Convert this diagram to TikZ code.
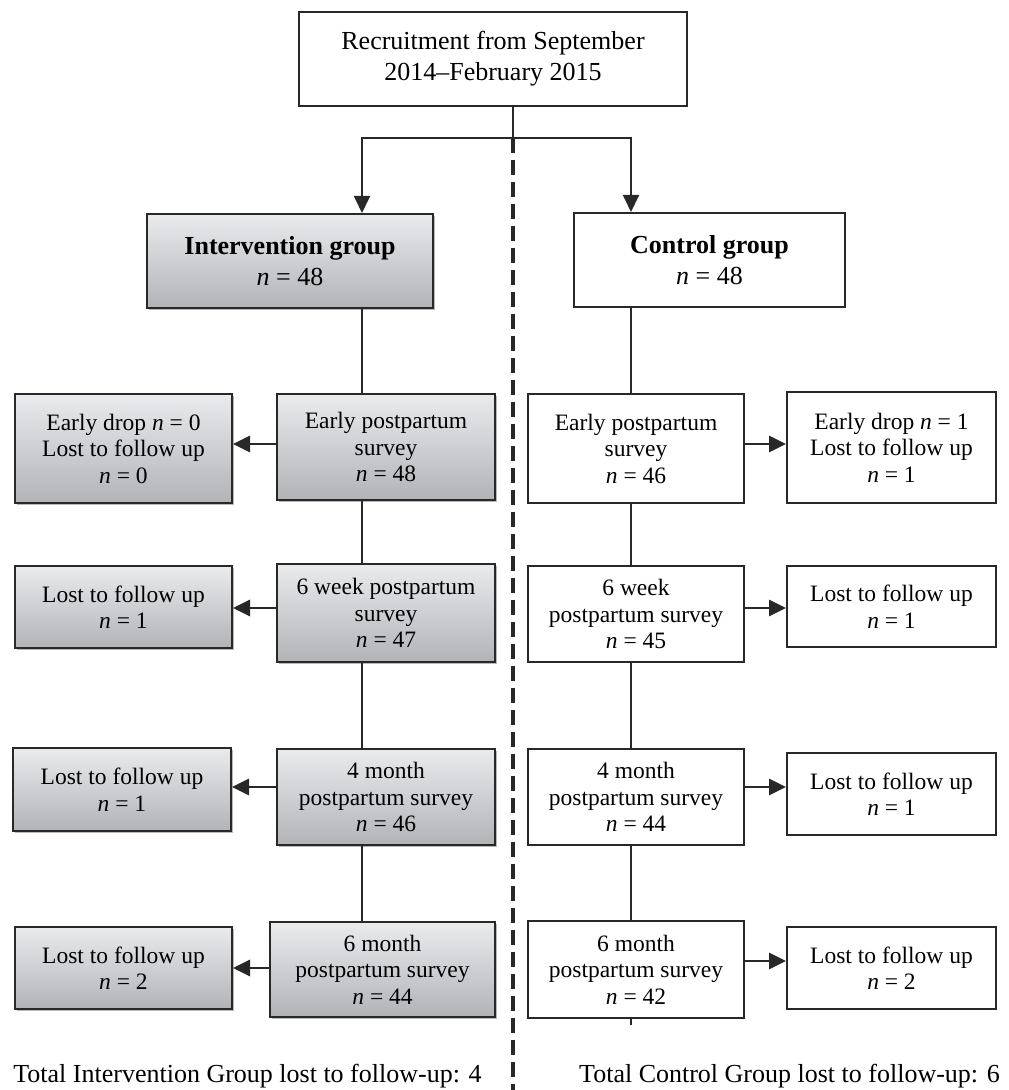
\documentclass[tikz,border=0pt]{standalone}
\usepackage{fontspec}
\setmainfont{Liberation Serif}
\usetikzlibrary{arrows.meta,shadows}

\definecolor{shadetop}{RGB}{234,235,237}
\definecolor{shadebot}{RGB}{178,179,183}
\definecolor{edge}{RGB}{40,40,40}
\newcommand{\bodysize}{\fontsize{11.75}{13.25}\selectfont}
\newcommand{\headsize}{\fontsize{13}{15.5}\selectfont}

\begin{document}
\begin{tikzpicture}[x=0.5pt,y=-0.5pt,
    box/.style 2 args={draw=edge, line width=1pt, align=center, inner sep=0pt,
      minimum width=#1*0.5pt, minimum height=#2*0.5pt, font=\bodysize},
    grey/.style={top color=shadetop, bottom color=shadebot,
      general shadow={fill=black!28, shadow xshift=1.2pt, shadow yshift=-1.2pt}},
    link/.style={draw=edge, line width=0.9pt},
    tip/.style={-{Triangle[length=8.5pt,width=8pt]}},
    side/.style={tip, draw=edge, line width=1.4pt}]
      \useasboundingbox (0,0) rectangle (1008,1090);
      % top and the two groups
      \draw
        (493,59) node[box={388}{94}, font=\headsize] (rec){Recruitment from September\\2014--February 2015}
        (290,261) node[box={286}{94}, grey, font=\headsize] (ig){\textbf{Intervention group}\\\textit{n} = 48}
        (709.5,260) node[box={271}{94}, font=\headsize] (cg){\textbf{Control group}\\\textit{n} = 48};
      % intervention arm
      \draw
        (386,447) node[box={218}{106}, grey] (ie){Early postpartum\\survey\\\textit{n} = 48}
        (386,613) node[box={218}{98}, grey] (i6w){6 week postpartum\\survey\\\textit{n} = 47}
        (386,797) node[box={218}{96}, grey] (i4m){4 month\\postpartum survey\\\textit{n} = 46}
        (382.5,969.5) node[box={225}{95}, grey] (i6m){6 month\\postpartum survey\\\textit{n} = 44}
        (123.5,448.5) node[box={217}{109}, grey] (ied){Early drop \textit{n} = 0\\Lost to follow up\\\textit{n} = 0}
        (123.5,607) node[box={217}{82}, grey] (i6wl){Lost to follow up\\\textit{n} = 1}
        (122,789.5) node[box={218}{83}, grey] (i4ml){Lost to follow up\\\textit{n} = 1}
        (123.5,968) node[box={217}{82}, grey] (i6ml){Lost to follow up\\\textit{n} = 2};
      % control arm
      \draw
        (636,448.5) node[box={216}{109}] (ce){Early postpartum\\survey\\\textit{n} = 46}
        (636,614) node[box={216}{96}] (c6w){6 week\\postpartum survey\\\textit{n} = 45}
        (636,797) node[box={216}{96}] (c4m){4 month\\postpartum survey\\\textit{n} = 44}
        (636,969.5) node[box={216}{97}] (c6m){6 month\\postpartum survey\\\textit{n} = 42}
        (891.5,447.5) node[box={209}{111}] (ced){Early drop \textit{n} = 1\\Lost to follow up\\\textit{n} = 1}
        (891.5,606.5) node[box={209}{81}] (c6wr){Lost to follow up\\\textit{n} = 1}
        (891.5,794) node[box={209}{82}] (c4mr){Lost to follow up\\\textit{n} = 1}
        (891.5,968) node[box={209}{82}] (c6mr){Lost to follow up\\\textit{n} = 2};
      % totals
      \draw
        (247.5,1076) node[font=\headsize] (itot){Total Intervention Group lost to follow-up: 4}
        (789.5,1076) node[font=\headsize] (ctot){Total Control Group lost to follow-up: 6};
      \coordinate (split) at (513,138);
      \coordinate (base) at (513,1090);
      \coordinate (iline) at (362,0);
      \coordinate (cline) at (631,0);
      \coordinate (stub) at (631,1025);
      \begin{scope}[link]
        \draw (rec.south -| split) to (split);
        \draw[tip] (split) -| (ig.north -| iline);
        \draw[tip] (split) -| (cg.north -| cline);
        \draw[line width=2pt, dash pattern=on 7.5pt off 3.5pt] (split) to (base);
        \draw (ig.south -| iline) to (ie.north -| iline);
        \draw (ie.south -| iline) to (i6w.north -| iline);
        \draw (i6w.south -| iline) to (i4m.north -| iline);
        \draw (i4m.south -| iline) to (i6m.north -| iline);
        \draw (cg.south -| cline) to (ce.north -| cline);
        \draw (ce.south -| cline) to (c6w.north -| cline);
        \draw (c6w.south -| cline) to (c4m.north -| cline);
        \draw (c4m.south -| cline) to (c6m.north -| cline);
        \draw (c6m.south -| cline) to (stub);
      \end{scope}
      \begin{scope}[side]
        \draw ([yshift=1.5pt]ie.west) to ([yshift=1.5pt]ie.west -| ied.east);
        \draw ([yshift=2.5pt]i6w.west) to ([yshift=2.5pt]i6w.west -| i6wl.east);
        \draw ([yshift=5pt]i4m.west) to ([yshift=5pt]i4m.west -| i4ml.east);
        \draw ([yshift=0.75pt]i6m.west) to ([yshift=0.75pt]i6m.west -| i6ml.east);
        \draw ([yshift=2.25pt]ce.east) to ([yshift=2.25pt]ce.east -| ced.west);
        \draw ([yshift=3pt]c6w.east) to ([yshift=3pt]c6w.east -| c6wr.west);
        \draw ([yshift=5pt]c4m.east) to ([yshift=5pt]c4m.east -| c4mr.west);
        \draw ([yshift=4.25pt]c6m.east) to ([yshift=4.25pt]c6m.east -| c6mr.west);
      \end{scope}
    \end{tikzpicture}
\end{document}
